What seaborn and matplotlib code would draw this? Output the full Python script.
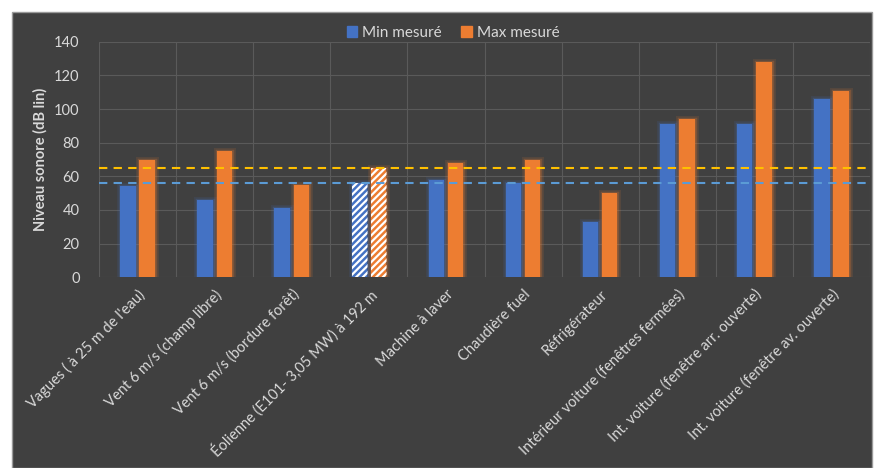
import matplotlib
matplotlib.use("Agg")
import matplotlib.pyplot as plt
import matplotlib.patheffects as pe
from matplotlib.patches import Rectangle, Patch
import seaborn as sns
import pandas as pd

categories = [
    "Vagues ( à 25 m de l'eau)",
    "Vent 6 m/s (champ libre)",
    "Vent 6 m/s (bordure forêt)",
    "Éolienne (E101- 3,05 MW) à 192 m",
    "Machine à laver",
    "Chaudière fuel",
    "Réfrigérateur",
    "Intérieur voiture (fenêtres fermées)",
    "Int. voiture (fenêtre arr. ouverte)",
    "Int. voiture (fenêtre av. ouverte)",
]
min_values = [54, 46, 41, 56, 58, 56, 33, 91, 91, 106]
max_values = [70, 75, 55, 65, 68, 70, 50, 94, 128, 111]
series_names = ["Min mesuré", "Max mesuré"]
ref_min = 56
ref_max = 65
y_ticks = [0, 20, 40, 60, 80, 100, 120, 140]

BLUE = "#4472C4"
ORANGE = "#ED7D31"
BG = "#404040"
GRID = "#5A5A5A"
TXT = "#D9D9D9"

sns.set_style("white")
plt.rcParams["font.family"] = ["Lato", "DejaVu Sans"]
plt.rcParams["hatch.linewidth"] = 1.6

df = pd.DataFrame({
    "cat": categories * 2,
    "val": min_values + max_values,
    "serie": [series_names[0]] * len(categories) + [series_names[1]] * len(categories),
})

W, H = 876, 468
fig = plt.figure(figsize=(W / 100, H / 100), dpi=100, facecolor="white")
fig.patches.append(Rectangle((12 / W, 0), 860 / W, 1 - 12 / H, transform=fig.transFigure,
                             facecolor=BG, edgecolor="#9a9a9a", linewidth=1.0, zorder=-10))

ax = fig.add_axes([99 / W, 1 - 277.3 / H, 771 / W, (277.3 - 41.7) / H])
ax.set_facecolor(BG)
ax.patch.set_alpha(0)

sns.barplot(data=df, x="cat", y="val", hue="serie", palette=[BLUE, ORANGE],
            width=0.5, gap=0.2, ax=ax, legend=False, zorder=3, saturation=1)

colors = [BLUE, ORANGE]
for ci, cont in enumerate(ax.containers):
    for i, bar in enumerate(cont):
        col = colors[ci]
        if i == 3:
            bar.set_facecolor(col)
            bar.set_edgecolor("white")
            bar.set_hatch("/////")
            bar.set_linewidth(0)
        else:
            bar.set_edgecolor(col)
            bar.set_linewidth(0)
        bar.set_path_effects([
            pe.Stroke(linewidth=5, foreground=col, alpha=0.12),
            pe.Stroke(linewidth=2.5, foreground=col, alpha=0.25),
            pe.Normal(),
        ])

ax.axhline(ref_max, color="#FFC000", lw=1.5, ls=(0, (4, 3)), zorder=4)
ax.axhline(ref_min, color="#5B9BD5", lw=1.5, ls=(0, (4, 3)), zorder=4)

ax.set_ylim(0, 140)
ax.set_xlim(-0.5, len(categories) - 0.5)
ax.set_yticks(y_ticks)
ax.set_xticks([i + 0.5 for i in range(-1, len(categories))], minor=True)
ax.grid(True, axis="y", which="major", color=GRID, lw=0.8, zorder=0)
ax.grid(True, axis="x", which="minor", color=GRID, lw=0.8, zorder=0)
ax.grid(False, axis="x", which="major")
ax.set_axisbelow(True)
for s in ax.spines.values():
    s.set_visible(False)

ax.tick_params(axis="y", length=0, pad=14, labelcolor=TXT, labelsize=10.5)
ax.tick_params(axis="x", which="both", length=0, pad=7, labelcolor=TXT, labelsize=10.5)
ax.set_xticks(range(len(categories)))
ax.set_xticklabels(categories, rotation=45, ha="right", rotation_mode="anchor")
ax.set_xlabel("")
ax.set_ylabel("Niveau sonore (dB lin)", color=TXT, fontsize=10.5, fontweight="bold", labelpad=5)

handles = [Patch(facecolor=BLUE, edgecolor=BLUE), Patch(facecolor=ORANGE, edgecolor=ORANGE)]
fig.legend(handles, series_names, loc="center", bbox_to_anchor=(453 / W, 1 - 33 / H), ncol=2,
           frameon=False, fontsize=11, labelcolor=TXT, handlelength=0.7, handleheight=0.7,
           handletextpad=0.3, columnspacing=1.3)

fig.savefig("out.png", dpi=100, facecolor="white")
